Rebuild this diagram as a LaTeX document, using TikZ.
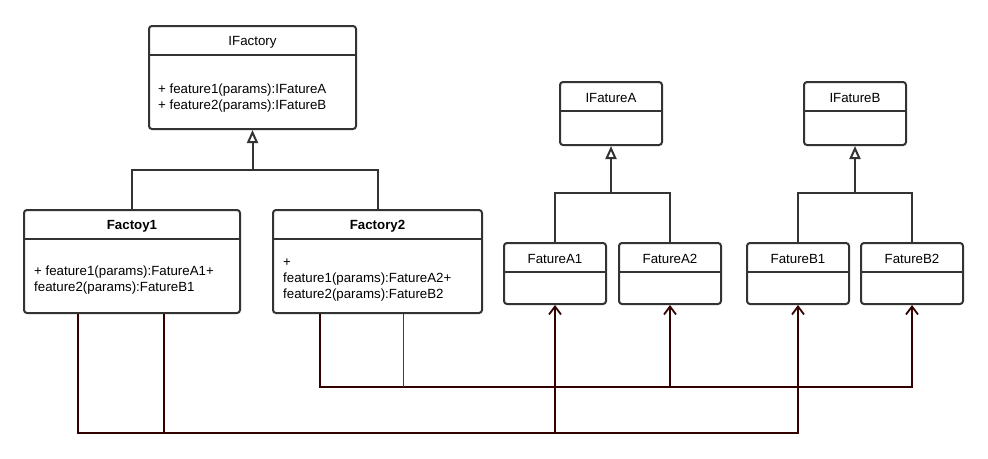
\documentclass[tikz,border=0pt]{standalone}
\usepackage{fontspec}
\setmainfont{Liberation Sans}
\usetikzlibrary{arrows.meta}
\definecolor{edge}{HTML}{333333}
\definecolor{depc}{HTML}{330000}
\newcommand{\tx}{\fontsize{13.3}{16}\selectfont}
\newcommand{\umlcls}[6]{% #1 = name, #2 = centre x, #3 = top, #4 = width, #5 = height, #6 = title
  \node[cls, minimum width=#4pt, minimum height=#5pt, anchor=north] (#1) at (#2,#3) {};
  \draw[sep] ([yshift=-30pt]#1.north west) -- ([yshift=-30pt]#1.north east);
  \node[ttl] (#1-t) at ([yshift=-17pt]#1.north) {#6};}

\begin{document}
\begin{tikzpicture}[
  x=1pt, y=-1pt,
  cls/.style={draw=edge, line width=2pt, rounded corners=3pt, fill=white, inner sep=0pt},
  sep/.style={draw=edge, line width=2pt},
  ttl/.style={font=\tx, inner sep=0pt},
  txt/.style={font=\tx, inner sep=0pt, align=left, anchor=west},
  gen/.style={draw=edge, line width=2pt},
  isa/.style={gen, -{Triangle[open, length=13pt, width=11pt, line width=2pt]}},
  dep/.style={draw=depc, line width=2pt},
  use/.style={dep, -{Straight Barb[length=8pt, width=12pt, line width=1.8pt]}},
]
  \useasboundingbox (0,0) rectangle (988,458);

  % ---------------- factories
  \umlcls{ifac}{252.5}{25}{207}{103}{IFactory}
  \node[txt] (ifac-m) at (158,98) {+ feature1(params):IFatureA\\+ feature2(params):IFatureB};
  \umlcls{f1}{132}{209}{216}{103}{\bfseries Factoy1}
  \node[txt] (f1-m) at (34,280) {+ feature1(params):FatureA1+\\feature2(params):FatureB1};
  \umlcls{f2}{377.5}{209}{209}{103}{\bfseries Factory2}
  \node[txt] (f2-m) at (283,280) {+\\feature1(params):FatureA2+\\feature2(params):FatureB2};
  \coordinate (j0) at (252.5,170);
  \draw[isa] (j0) -- (ifac.south);
  \draw[gen] (f1.north) |- (j0) -| (f2.north);

  % ---------------- products
  \umlcls{ia}{611}{81}{102}{63}{IFatureA}
  \umlcls{ib}{855}{81}{102}{63}{IFatureB}
  \foreach \n/\x/\t in {fa1/555/FatureA1, fa2/670/FatureA2, fb1/798/FatureB1, fb2/912/FatureB2}
    \umlcls{\n}{\x}{242}{102}{61}{\t};
  \coordinate (ja) at (611,193);
  \coordinate (jb) at (855,193);
  \draw[isa] (ja) -- (ia.south);
  \draw[isa] (jb) -- (ib.south);
  \draw[gen] (fa1.north) |- (ja) -| (fa2.north);
  \draw[gen] (fb1.north) |- (jb) -| (fb2.north);

  % ---------------- dependencies
  \draw[use] (f1.south -| 78,0) -- (78,433) -| (fb1.south);
  \draw[dep] (f1.south -| 164,0) -- (164,433);
  \draw[use] (fa1.south |- 0,433) -- (fa1.south);
  \draw[use] (f2.south -| 320,0) -- (320,387) -| (fb2.south);
  \draw[dep, line width=1pt, draw=depc!80] (f2.south -| 403,0) -- (403,387);
  \draw[use] (fa2.south |- 0,387) -- (fa2.south);
\end{tikzpicture}
\end{document}
